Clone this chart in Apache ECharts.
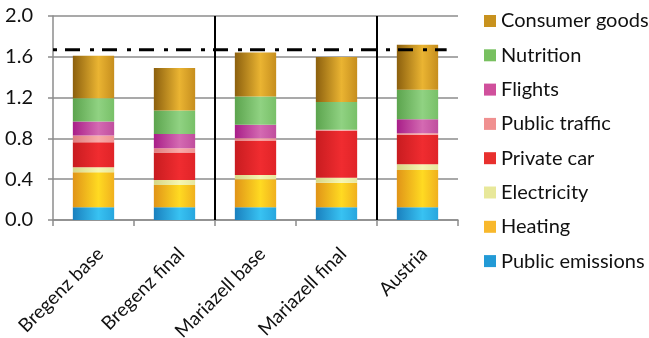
<!DOCTYPE html>
<html>
<head>
<meta charset="utf-8">
<script src="https://cdn.jsdelivr.net/npm/echarts@6/dist/echarts.min.js"></script>
<style>
  html, body { margin: 0; padding: 0; background: #fff; }
  #chart { width: 649px; height: 338px; }
</style>
</head>
<body>
<div id="chart"></div>
<script>
// Per-capita emissions by sector for five scenarios (stacked, bottom to top)
var categories = ['Bregenz base', 'Bregenz final', 'Mariazell base', 'Mariazell final', 'Austria'];

var publicEmissions = [0.125, 0.125, 0.125, 0.125, 0.125];
var heating         = [0.343, 0.219, 0.275, 0.241, 0.366];
var electricity     = [0.049, 0.049, 0.042, 0.049, 0.056];
var privateCar      = [0.246, 0.268, 0.337, 0.459, 0.288];
var publicTraffic   = [0.065, 0.043, 0.023, 0.010, 0.016];
var flights         = [0.137, 0.140, 0.131, 0.000, 0.137];
var nutrition       = [0.229, 0.229, 0.278, 0.272, 0.288];
var consumerGoods   = [0.416, 0.416, 0.432, 0.441, 0.442];

// Target level drawn as a dash-dot line across the groups
var targetLevel = 1.67;
var targetSpan = [0, 4.86];      // along the group axis (0 = left edge, 5 = right edge)
var groupDividers = [2, 4];      // boundaries between the Bregenz / Mariazell / Austria groups

var yTicks = { min: 0, max: 2.0, interval: 0.4 };

// name, values, [left shade, highlight, right shade], legend swatch
var sectors = [
  ['Public emissions', publicEmissions, ['#1a80be', '#38c2f2', '#28a6de'], '#229ad6'],
  ['Heating',          heating,         ['#e09418', '#ffda22', '#f0b01e'], '#f8b82c'],
  ['Electricity',      electricity,     ['#d6d686', '#f6f6b2', '#e6e69e'], '#e8e89a'],
  ['Private car',      privateCar,      ['#c81c20', '#f02c30', '#e02428'], '#e8302e'],
  ['Public traffic',   publicTraffic,   ['#de7e80', '#f8acaa', '#ee9292'], '#f09090'],
  ['Flights',          flights,         ['#a81e88', '#d46ab2', '#c04e9e'], '#d0509c'],
  ['Nutrition',        nutrition,       ['#5ca44e', '#90d282', '#78c068'], '#78c060'],
  ['Consumer goods',   consumerGoods,   ['#8c600e', '#eab432', '#c68e1e'], '#c8921e']
];

var FONT = 'Lato, "Open Sans", sans-serif';

function barGradient(c) {
  return new echarts.graphic.LinearGradient(0, 0, 1, 0, [
    { offset: 0, color: c[0] },
    { offset: 0.62, color: c[1] },
    { offset: 1, color: c[2] }
  ]);
}

var series = sectors.map(function (s) {
  return {
    name: s[0],
    type: 'bar',
    stack: 'total',
    barWidth: '51%',
    data: s[1],
    itemStyle: { color: barGradient(s[2]) },
    emphasis: { disabled: true }
  };
});

series.push({
  name: 'Target',
  type: 'line',
  xAxisIndex: 1,
  yAxisIndex: 0,
  symbol: 'none',
  silent: true,
  data: targetSpan.map(function (x) { return [x, targetLevel]; }),
  lineStyle: { color: '#000', width: 3, type: [4, 8, 15, 10] },
  z: 5,
  markLine: {
    silent: true,
    symbol: 'none',
    label: { show: false },
    lineStyle: { color: '#000', width: 2, type: 'solid' },
    data: groupDividers.map(function (x) { return { xAxis: x }; })
  }
});

var legendData = sectors.slice().reverse().map(function (s) {
  return { name: s[0], itemStyle: { color: s[3] } };
});

var chart = echarts.init(document.getElementById('chart'), null, { renderer: 'canvas' });
chart.setOption({
  animation: false,
  backgroundColor: '#fff',
  grid: {
    left: 53, top: 16, width: 405, height: 204,
    containLabel: false, outerBoundsMode: 'none'
  },
  legend: {
    orient: 'vertical',
    left: 484,
    top: 11,
    padding: 0,
    icon: 'rect',
    itemWidth: 12,
    itemHeight: 12,
    itemGap: 14.3,
    selectedMode: false,
    data: legendData,
    textStyle: { fontFamily: FONT, fontSize: 20, color: '#111', lineHeight: 20 }
  },
  xAxis: [
    {
      type: 'category',
      data: categories,
      axisLine: { lineStyle: { color: '#8c8c8c', width: 1.5 } },
      axisTick: { show: true, length: 6, lineStyle: { color: '#8c8c8c', width: 1.5 } },
      axisLabel: {
        rotate: 45, fontFamily: FONT, fontSize: 19, color: '#111',
        margin: 24, verticalAlign: 'top'
      }
    },
    {
      type: 'value',
      min: 0,
      max: categories.length,
      show: false,
      position: 'bottom',
      splitLine: { show: false }
    }
  ],
  yAxis: {
    type: 'value',
    min: yTicks.min,
    max: yTicks.max,
    interval: yTicks.interval,
    axisLine: { show: true, lineStyle: { color: '#8c8c8c', width: 1.5 } },
    axisTick: { show: true, length: 5, lineStyle: { color: '#8c8c8c', width: 1.5 } },
    splitLine: { show: true, lineStyle: { color: '#8c8c8c', width: 1.5 } },
    axisLabel: {
      fontFamily: FONT, fontSize: 20, color: '#111', margin: 20,
      formatter: function (v) { return v.toFixed(1); }
    }
  },
  series: series
});
</script>
</body>
</html>
